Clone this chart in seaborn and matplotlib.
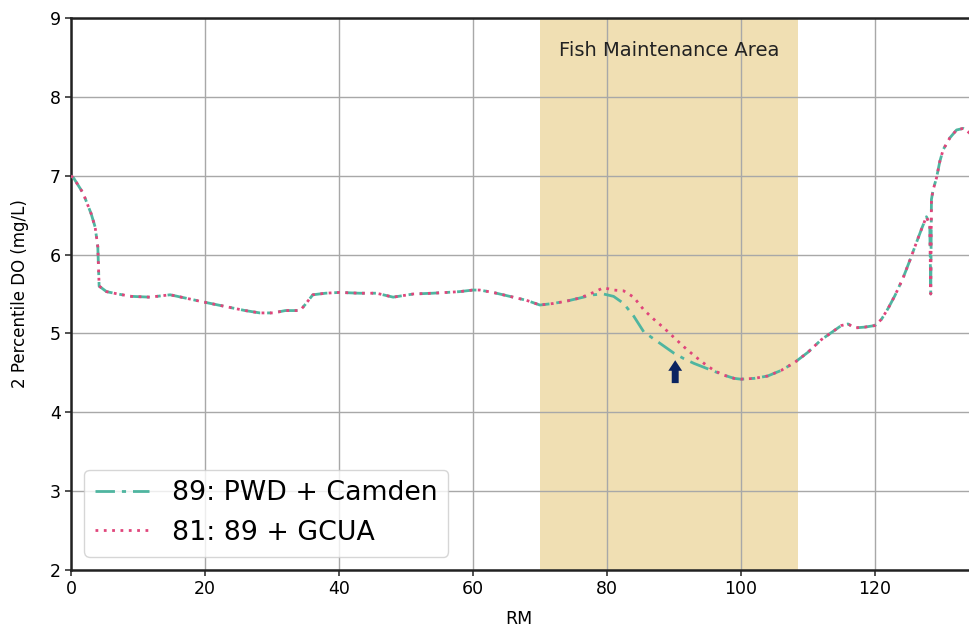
import numpy as np
import pandas as pd
import matplotlib
matplotlib.use("Agg")
import matplotlib.pyplot as plt
import seaborn as sns

# ---- data ----
rm = [0, 0.4, 1.8, 3.0, 3.6, 4.0, 4.2, 5.3, 7.0, 9.0, 11.8, 14.8, 17.0, 19.7,
      23.7, 26.0, 28.2, 30.2, 32.0, 34.2, 34.9, 36.1, 38.0, 40.1, 43.0, 45.6,
      48.1, 51.1, 54.0, 56.1, 58.0, 60.0, 61.0, 63.0, 66.0, 68.0, 70.0, 72.0,
      74.0, 76.0, 78.0, 79.5, 81.0, 82.5, 84.0, 85.5, 87.0, 88.5, 90.0, 91.5,
      93.0, 94.5, 96.0, 97.5, 99.0, 100.0, 102.0, 104.0, 106.0, 108.0, 110.0,
      112.0, 114.0, 115.0, 116.0, 117.0, 118.5, 120.0, 121.0, 122.0, 123.0,
      124.2, 125.2, 126.2, 127.0, 127.7, 128.2, 128.35, 128.45, 128.7, 129.2,
      129.7, 130.2, 131.2, 132.2, 133.2, 134.5, 135.7]

do_common_head = [7.00, 6.97, 6.78, 6.52, 6.35, 6.10, 5.60, 5.53, 5.50, 5.47,
                  5.46, 5.49, 5.45, 5.40, 5.33, 5.29, 5.26, 5.26, 5.29, 5.29,
                  5.36, 5.49, 5.51, 5.52, 5.51, 5.51, 5.46, 5.50, 5.51, 5.52,
                  5.53, 5.55, 5.55, 5.52, 5.46, 5.42, 5.36, 5.38, 5.41, 5.45]

do_pwd_mid = [5.49, 5.50, 5.47, 5.38, 5.22, 5.02, 4.93, 4.84, 4.75, 4.68,
              4.62, 4.57, 4.52, 4.47, 4.43]
do_gcua_mid = [5.52, 5.58, 5.55, 5.54, 5.46, 5.30, 5.18, 5.07, 4.95, 4.83,
               4.72, 4.62, 4.53, 4.47, 4.43]

do_common_tail = [4.42, 4.43, 4.46, 4.53, 4.63, 4.76, 4.92, 5.04, 5.10, 5.12,
                  5.07, 5.08, 5.10, 5.18, 5.32, 5.48, 5.70, 5.92, 6.15, 6.33,
                  6.48, 6.38, 5.50, 6.70, 6.82, 6.97, 7.18, 7.33, 7.48, 7.58,
                  7.60, 7.52, 7.45]

do_pwd = do_common_head + do_pwd_mid + do_common_tail
do_gcua = do_common_head + do_gcua_mid + do_common_tail

label_pwd = "89: PWD + Camden"
label_gcua = "81: 89 + GCUA"

fma_start, fma_end = 70.0, 108.5
fma_label = "Fish Maintenance Area"
arrow_x, arrow_tip, arrow_base = 90.2, 4.66, 4.37

xticks = [0, 20, 40, 60, 80, 100, 120]
yticks = [2, 3, 4, 5, 6, 7, 8, 9]

# ---- figure ----
fig = plt.figure(figsize=(9.7, 6.31), dpi=100)
ax = fig.add_axes([71 / 970, 61 / 631, (980 - 71) / 970, 552 / 631])

ax.axvspan(fma_start, fma_end, color="#f0dfb3", zorder=0.5, lw=0)

sns.lineplot(x=rm, y=do_pwd, ax=ax, color="#4fb5a0", linestyle=(0, (7, 2.5, 1.5, 2.5)),
             lw=2.0, label=label_pwd, sort=False, estimator=None, zorder=3)
sns.lineplot(x=rm, y=do_gcua, ax=ax, color="#e0457b", linestyle=(0, (1, 2)),
             lw=2.0, label=label_gcua, sort=False, estimator=None, zorder=3)

ax.text((fma_start + fma_end) / 2, 8.59, fma_label, ha="center", va="center",
        fontsize=14, color="#222222")

ax.annotate("", xy=(arrow_x, arrow_tip), xytext=(arrow_x, arrow_base),
            arrowprops=dict(arrowstyle="simple,head_width=0.5,head_length=0.38,tail_width=0.25",
                            mutation_scale=20, color="#0b2461", lw=0,
                            shrinkA=0, shrinkB=0),
            zorder=5)

ax.set_xlim(0, 135.7)
ax.set_ylim(2, 9)
ax.set_xticks(xticks)
ax.set_yticks(yticks)
ax.grid(True, color="#a8a8a8", lw=1)
ax.tick_params(labelsize=12.5, length=4, width=1.2, color="#333333")
for s in ax.spines.values():
    s.set_color("#222222")
    s.set_linewidth(1.8)

ax.set_xlabel("RM", fontsize=12.5)
ax.set_ylabel("2 Percentile DO (mg/L)", fontsize=12)
ax.xaxis.set_label_coords((519 - 71) / 909, -0.072)
ax.yaxis.set_label_coords(-0.046, 0.5)

leg = ax.legend(loc="lower left", fontsize=19.3, frameon=True, fancybox=True,
                framealpha=0.8, edgecolor="#cccccc", handletextpad=0.85)

fig.savefig("out.png", dpi=100)
